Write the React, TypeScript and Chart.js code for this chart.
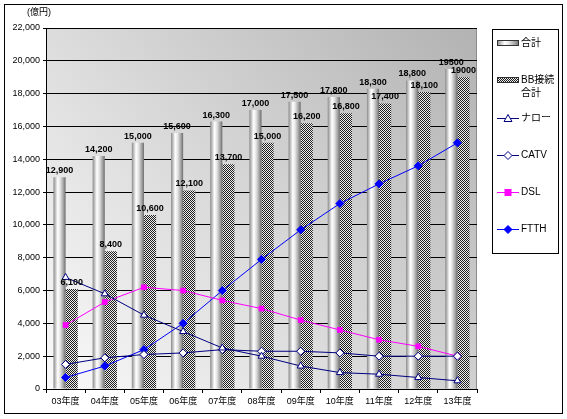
import React, { useEffect, useRef } from "react";
import { Chart, registerables } from "chart.js";

Chart.register(...registerables);

// Fiscal years (category axis)
const categories = ["03年度", "04年度", "05年度", "06年度", "07年度", "08年度", "09年度", "10年度", "11年度", "12年度", "13年度"];

// Market size, 億円
const totalValues = [12900, 14200, 15000, 15600, 16300, 17000, 17500, 17800, 18300, 18800, 19500];
const bbValues = [6100, 8400, 10600, 12100, 13700, 15000, 16200, 16800, 17400, 18100, 19000];
const narrowValues = [6800, 5800, 4500, 3500, 2500, 2000, 1400, 1000, 900, 700, 500];
const catvValues = [1500, 1900, 2100, 2200, 2400, 2300, 2300, 2200, 2000, 2000, 2000];
const dslValues = [3900, 5300, 6200, 6000, 5400, 4900, 4200, 3600, 3000, 2600, 2000];
const ftthValues = [700, 1400, 2400, 4000, 6000, 7900, 9700, 11300, 12500, 13600, 15000];

// Axis ticks
const yMin = 0;
const yMax = 22000;
const yStep = 2000;
const yUnit = "(億円)";

const FONT = "'Liberation Sans', 'Noto Sans CJK JP', sans-serif";
const CAT_PCT = 0.62;
const NAVY = "#000080";
const MAGENTA = "#ff00ff";
const BLUE = "#0000ff";

const fmt = (v: number, i: number) =>
  i === categories.length - 1 ? String(v) : v.toLocaleString("en-US");

function cylinderGradient(c: CanvasRenderingContext2D, l: number, r: number) {
  const g = c.createLinearGradient(l, 0, r, 0);
  g.addColorStop(0, "#8a8a8a");
  g.addColorStop(0.35, "#ffffff");
  g.addColorStop(0.55, "#e4e4e4");
  g.addColorStop(0.85, "#9a9a9a");
  g.addColorStop(1, "#6a6a6a");
  return g;
}

function checkerPattern(c: CanvasRenderingContext2D) {
  const tile = document.createElement("canvas");
  tile.width = 2;
  tile.height = 2;
  const t = tile.getContext("2d")!;
  t.fillStyle = "#eeeeee";
  t.fillRect(0, 0, 2, 2);
  t.fillStyle = "#1e1e1e";
  t.fillRect(0, 0, 1, 1);
  t.fillRect(1, 1, 1, 1);
  return c.createPattern(tile, "repeat")!;
}

const plotBackground = {
  id: "plotBackground",
  beforeDraw(chart: any) {
    const { ctx, chartArea: a } = chart;
    const g = ctx.createLinearGradient(a.left, a.bottom, a.right, a.top);
    g.addColorStop(0, "#fafafa");
    g.addColorStop(1, "#b2b2b2");
    ctx.save();
    ctx.fillStyle = "#ffffff";
    ctx.fillRect(0, 0, chart.width, chart.height);
    ctx.fillStyle = g;
    ctx.fillRect(a.left, a.top, a.right - a.left, a.bottom - a.top);
    ctx.strokeStyle = "#8c8c8c";
    ctx.lineWidth = 1;
    ctx.beginPath();
    ctx.moveTo(a.left, a.top + 0.5);
    ctx.lineTo(a.right - 0.5, a.top + 0.5);
    ctx.lineTo(a.right - 0.5, a.bottom);
    ctx.stroke();
    ctx.restore();
  },
};

const barLabels = {
  id: "barLabels",
  afterDatasetsDraw(chart: any) {
    const { ctx } = chart;
    ctx.save();
    ctx.font = `bold 9px ${FONT}`;
    ctx.fillStyle = "#000";
    ctx.textAlign = "center";
    ctx.textBaseline = "bottom";
    [0, 1].forEach((di) => {
      const meta = chart.getDatasetMeta(di);
      const values = chart.data.datasets[di].data as number[];
      meta.data.forEach((el: any, i: number) => {
        ctx.fillText(fmt(values[i], i), el.x, el.y - 2);
      });
    });
    ctx.restore();
  },
};

function drawMarker(c: CanvasRenderingContext2D, kind: string, x: number, y: number, color: string) {
  c.save();
  c.strokeStyle = color;
  c.lineWidth = 1;
  c.beginPath();
  if (kind === "triangle") {
    c.moveTo(x, y - 4);
    c.lineTo(x + 4, y + 3);
    c.lineTo(x - 4, y + 3);
    c.closePath();
    c.fillStyle = "#fff";
    c.fill();
    c.stroke();
  } else if (kind === "diamondOpen" || kind === "diamond") {
    c.moveTo(x, y - 4);
    c.lineTo(x + 4, y);
    c.lineTo(x, y + 4);
    c.lineTo(x - 4, y);
    c.closePath();
    c.fillStyle = kind === "diamond" ? color : "#fff";
    c.fill();
    c.stroke();
  } else {
    c.rect(x - 3.5, y - 3.5, 7, 7);
    c.fillStyle = color;
    c.fill();
  }
  c.restore();
}

const frameAndLegend = {
  id: "frameAndLegend",
  afterDraw(chart: any) {
    const c: CanvasRenderingContext2D = chart.ctx;
    c.save();
    // outer frame
    c.strokeStyle = "#000";
    c.lineWidth = 1;
    c.strokeRect(4.5, 4.5, 558, 409);
    // unit label
    c.font = `9px ${FONT}`;
    c.fillStyle = "#000";
    c.textBaseline = "middle";
    c.textAlign = "left";
    c.fillText(yUnit, 27, 13);

    // legend box
    c.fillStyle = "#fff";
    c.fillRect(492.5, 29.5, 66, 224);
    c.strokeRect(492.5, 29.5, 66, 224);

    c.font = `10px ${FONT}`;
    const sx = 497;
    const sw = 22;
    const tx = 521;

    // 合計 swatch
    c.fillStyle = cylinderGradient(c, sx, sx + sw);
    c.fillRect(sx, 40, sw, 6);
    c.strokeStyle = "#333";
    c.strokeRect(sx + 0.5, 40.5, sw - 1, 5);
    c.fillStyle = "#000";
    c.fillText("合計", tx, 43);

    // BB接続合計 swatch
    c.fillStyle = checkerPattern(c);
    c.fillRect(sx, 77, sw, 6);
    c.strokeStyle = "#333";
    c.strokeRect(sx + 0.5, 77.5, sw - 1, 5);
    c.fillStyle = "#000";
    c.fillText("BB接続", tx, 80);
    c.fillText("合計", tx, 93);

    const lines = [
      { label: "ナロー", y: 118, color: NAVY, kind: "triangle" },
      { label: "CATV", y: 155, color: NAVY, kind: "diamondOpen" },
      { label: "DSL", y: 192, color: MAGENTA, kind: "rect" },
      { label: "FTTH", y: 229, color: BLUE, kind: "diamond" },
    ];
    lines.forEach((it) => {
      c.strokeStyle = it.color;
      c.beginPath();
      c.moveTo(sx, it.y + 0.5);
      c.lineTo(sx + sw, it.y + 0.5);
      c.stroke();
      drawMarker(c, it.kind, sx + sw / 2, it.y + 0.5, it.color);
      c.fillStyle = "#000";
      c.fillText(it.label, tx, it.y);
    });
    c.restore();
  },
};

export default function App() {
  const ref = useRef<HTMLCanvasElement>(null);

  useEffect(() => {
    const canvas = ref.current!;
    Chart.defaults.font.family = FONT;
    let pattern: CanvasPattern | null = null;

    const chart = new Chart(canvas, {
      type: "bar",
      data: {
        labels: categories,
        datasets: [
          {
            type: "bar",
            label: "合計",
            data: totalValues,
            order: 2,
            backgroundColor: (ctx: any) => {
              const ch = ctx.chart;
              const xs = ch.scales && ch.scales.x;
              if (ctx.type !== "data" || !xs) return "#cccccc";
              const cx = xs.getPixelForValue(ctx.dataIndex);
              const w = (xs.right - xs.left) / categories.length;
              const l = cx - (w * CAT_PCT) / 2;
              if (!Number.isFinite(l) || !Number.isFinite(cx) || cx <= l) return "#cccccc";
              return cylinderGradient(ch.ctx, l, cx);
            },
            borderWidth: 0,
            categoryPercentage: CAT_PCT,
            barPercentage: 1,
          },
          {
            type: "bar",
            label: "BB接続合計",
            data: bbValues,
            order: 2,
            backgroundColor: (ctx: any) => {
              if (!pattern) pattern = checkerPattern(ctx.chart.ctx);
              return pattern;
            },
            borderWidth: 0,
            categoryPercentage: CAT_PCT,
            barPercentage: 1,
          },
          {
            type: "line",
            label: "ナロー",
            data: narrowValues,
            order: 1,
            borderColor: NAVY,
            borderWidth: 1,
            pointStyle: "triangle",
            pointRadius: 4,
            pointBackgroundColor: "#ffffff",
            pointBorderColor: NAVY,
            pointBorderWidth: 1,
          },
          {
            type: "line",
            label: "CATV",
            data: catvValues,
            order: 1,
            borderColor: NAVY,
            borderWidth: 1,
            pointStyle: "rectRot",
            pointRadius: 4,
            pointBackgroundColor: "#ffffff",
            pointBorderColor: NAVY,
            pointBorderWidth: 1,
          },
          {
            type: "line",
            label: "DSL",
            data: dslValues,
            order: 1,
            borderColor: MAGENTA,
            borderWidth: 1,
            pointStyle: "rect",
            pointRadius: 4,
            pointBackgroundColor: MAGENTA,
            pointBorderColor: MAGENTA,
            pointBorderWidth: 0,
          },
          {
            type: "line",
            label: "FTTH",
            data: ftthValues,
            order: 1,
            borderColor: BLUE,
            borderWidth: 1,
            pointStyle: "rectRot",
            pointRadius: 4,
            pointBackgroundColor: BLUE,
            pointBorderColor: BLUE,
            pointBorderWidth: 1,
          },
        ],
      },
      options: {
        responsive: false,
        animation: false,
        layout: { padding: { left: 0, top: 28, right: 90, bottom: 0 } },
        plugins: {
          legend: { display: false },
          tooltip: { enabled: false },
          title: { display: false },
        },
        scales: {
          x: {
            offset: true,
            grid: {
              drawOnChartArea: false,
              drawTicks: true,
              tickLength: 4,
              color: "#000",
              offset: true,
            },
            border: { color: "#000" },
            ticks: {
              color: "#000",
              font: { size: 9 },
              padding: 3,
              maxRotation: 0,
              autoSkip: false,
            },
            afterFit: (s: any) => {
              s.height = 30;
            },
          },
          y: {
            min: yMin,
            max: yMax,
            grid: { color: "#000", tickLength: 3 },
            border: { color: "#000" },
            ticks: {
              stepSize: yStep,
              color: "#000",
              font: { size: 9 },
              padding: 3,
              callback: (v: any) => Number(v).toLocaleString("en-US"),
            },
            afterFit: (s: any) => {
              s.width = 46;
            },
          },
        },
      },
      plugins: [plotBackground, barLabels, frameAndLegend],
    } as any);

    return () => chart.destroy();
  }, []);

  return (
    <div style={{ position: "fixed", left: 0, top: 0, width: 567, height: 419 }}>
      <canvas ref={ref} width={567} height={419} />
    </div>
  );
}
